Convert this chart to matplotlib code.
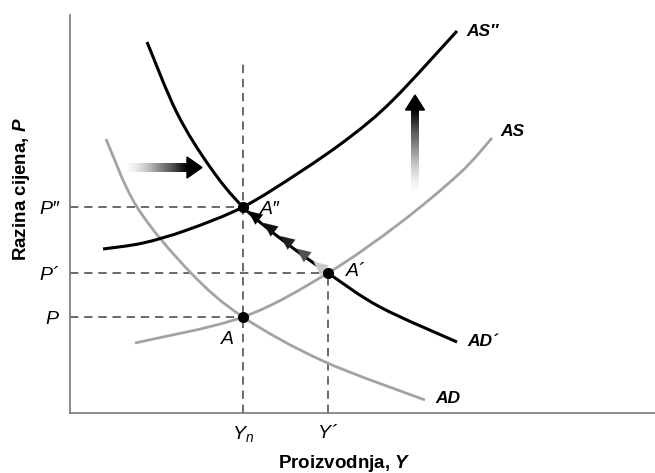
import numpy as np
import matplotlib.pyplot as plt
from matplotlib.patches import Polygon, PathPatch
from matplotlib.path import Path

plt.rcParams['font.family'] = ['Liberation Sans', 'DejaVu Sans']
plt.rcParams['mathtext.fontset'] = 'custom'
plt.rcParams['mathtext.it'] = 'Liberation Sans:italic'
plt.rcParams['mathtext.rm'] = 'Liberation Sans'
plt.rcParams['mathtext.bfit'] = 'Liberation Sans:italic:bold'

# curves (x = output, y = price level)
ad_x = [36, 67, 120, 173, 253, 355]
ad_y = [274, 206, 141, 96, 52, 13]
ad2_x = [77, 107, 140, 173, 215, 258, 310, 387]
ad2_y = [371, 300, 246, 206, 171, 140, 106, 71]
as_x = [65, 173, 258, 330, 390, 422]
as_y = [70, 96, 140, 190, 240, 275]
as2_x = [33, 73, 117, 173, 230, 280, 323, 387]
as2_y = [164, 170, 183, 206, 241, 276, 313, 382]

# equilibrium levels
Yn, Y1 = 173, 258
P0, P1, P2 = 96, 140, 206
yn_top = 350

# adjustment arrows along AD' (fraction of the way from A' to A'')
adj_frac = [0.17, 0.37, 0.56, 0.76, 0.94]
adj_col = ['#c8c8c8', '#505050', '#202020', '#101010', '#000000']


def smooth(xs, ys):
    # Catmull-Rom through the read points, drawn as cubic Bezier segments
    p = np.column_stack([xs, ys]).astype(float)
    n = len(p)
    verts = [p[0]]
    codes = [Path.MOVETO]
    for i in range(n - 1):
        p0, p1, p2, p3 = p[max(i - 1, 0)], p[i], p[i + 1], p[min(i + 2, n - 1)]
        verts += [p1 + (p2 - p0) / 6, p2 - (p3 - p1) / 6, p2]
        codes += [Path.CURVE4] * 3
    return Path(verts, codes)


fig = plt.figure(figsize=(6.55, 4.73), dpi=100)
ax = fig.add_axes([70/655, 60/473, 585/655, 398/473])

grey = '#a3a3a3'
ax.add_patch(PathPatch(smooth(ad_x, ad_y), fill=False, ec=grey, lw=2, zorder=2))
ax.add_patch(PathPatch(smooth(as_x, as_y), fill=False, ec=grey, lw=2, zorder=2))
ax.add_patch(PathPatch(smooth(ad2_x, ad2_y), fill=False, ec='black', lw=2.2, zorder=3))
ax.add_patch(PathPatch(smooth(as2_x, as2_y), fill=False, ec='black', lw=2.2, zorder=3))

dash = dict(color='#505050', lw=1.2, dashes=(5, 3.5), zorder=1)
ax.plot([Yn, Yn], [0, yn_top], **dash)
ax.plot([Y1, Y1], [0, P1], **dash)
ax.plot([0, Yn], [P0, P0], **dash)
ax.plot([0, Y1], [P1, P1], **dash)
ax.plot([0, Yn], [P2, P2], **dash)

ax.plot([Yn, Y1, Yn], [P0, P1, P2], 'o', color='black', ms=7, zorder=5)

for f, c in zip(adj_frac, adj_col):
    tx = Y1 + f * (Yn - Y1)
    ty = P1 + f * (P2 - P1)
    bx = tx + 0.12 * (Y1 - Yn)
    by = ty + 0.12 * (P1 - P2)
    ax.annotate('', xy=(tx, ty), xytext=(bx, by),
                arrowprops=dict(arrowstyle='-|>,head_length=1.0,head_width=0.45',
                                color=c, lw=0.1, shrinkA=0, shrinkB=0), zorder=4)

# gradient shift arrows
hgrad = np.linspace(0, 1, 200).reshape(1, -1)
ax.imshow(hgrad, extent=[56, 118, 241, 250], cmap='Greys', aspect='auto',
          origin='lower', zorder=2)
ax.add_patch(Polygon([[117, 235], [117, 256], [132, 245.5]], closed=True,
                     color='black', zorder=2))
vgrad = np.linspace(0, 1, 200).reshape(-1, 1)
ax.imshow(vgrad, extent=[341, 349, 221, 304], cmap='Greys', aspect='auto',
          origin='lower', zorder=2)
ax.add_patch(Polygon([[335.5, 303], [354.5, 303], [345, 318]], closed=True,
                     color='black', zorder=2))

ax.set_xlim(0, 585)
ax.set_ylim(0, 398)

lab = dict(fontsize=12.5, fontweight='bold', style='italic', va='center', ha='left')
ax.text(396, 382, 'AS″', **lab)
ax.text(430, 281, 'AS', **lab)
ax.text(397, 72, 'AD´', **lab)
ax.text(365, 15, 'AD', **lab)

pt = dict(fontsize=14, style='italic', va='center')
ax.text(190, 204, 'A″', ha='left', **pt)
ax.text(276, 141, 'A´', ha='left', **pt)
ax.text(157, 74, 'A', ha='center', **pt)

for s in ['top', 'right']:
    ax.spines[s].set_visible(False)
for s in ['left', 'bottom']:
    ax.spines[s].set_color('#777777')
    ax.spines[s].set_linewidth(1.2)

ax.set_xticks([Yn, Y1])
ax.set_xticklabels(['$Y_n$', '$Y$´'], fontsize=14, style='italic')
ax.set_yticks([P0, P1, P2])
ax.set_yticklabels(['P', 'P´', 'P″'], fontsize=14, style='italic')
ax.tick_params(length=0, pad=8)

fig.text(22/655, 1 - 189/473, 'Razina cijena, $\\mathbfit{P}$', rotation=90,
         ha='center', va='center', fontsize=13.5, fontweight='bold')
fig.text(344/655, 1 - 463/473, 'Proizvodnja, $\\mathbfit{Y}$',
         ha='center', va='center', fontsize=13.5, fontweight='bold')

fig.savefig('out.png', dpi=100)
